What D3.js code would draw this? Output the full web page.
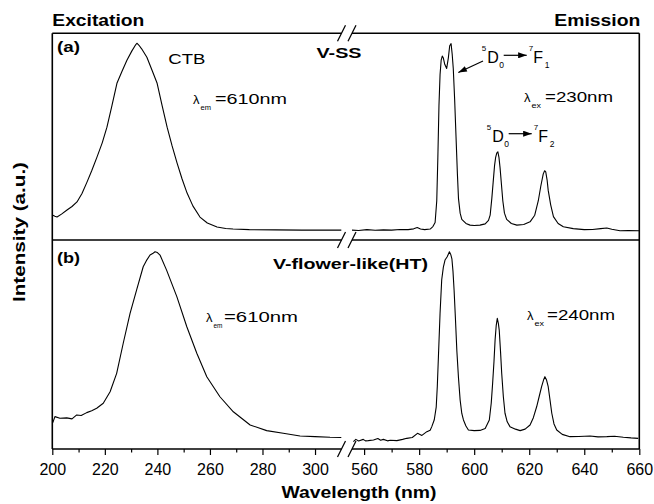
<!DOCTYPE html>
<html>
<head>
<meta charset="utf-8">
<script src="https://cdn.jsdelivr.net/npm/d3@7"></script>
<style>
  body { margin: 0; background: #fff; }
  svg { display: block; font-family: "Liberation Sans", Arial, sans-serif; }
</style>
</head>
<body>
<svg id="chart" width="654" height="504"></svg>
<script>
// Excitation spectra (wavelength nm, intensity a.u. scaled 0-100 per panel)
const excWlA = [200, 201, 201.8, 203.5, 205.6, 207.5, 209.4, 211.3, 213.2, 215, 217, 219, 220.8, 222.7, 224.6, 226.5, 228.4, 230.3, 231.5, 232.2, 233, 234, 236, 238, 239.9, 241.8, 243.7, 245.6, 247.5, 249.4, 251.3, 253.5, 256.2, 259, 262.7, 266, 268.8, 275, 285, 295, 305.7, 310];
const excIntA = [12.1, 11.5, 11.1, 12.5, 14.5, 16.2, 18.4, 22.5, 28, 33.5, 40.1, 47, 54.6, 65, 75.8, 81.5, 87, 91.5, 94, 95.2, 94.2, 92.5, 88.4, 82, 75.8, 65, 54.6, 45.5, 37.2, 29.5, 22.7, 16.5, 11.1, 8.2, 6.3, 5.6, 5.3, 5.0, 4.9, 4.8, 4.8, 4.8];

const excWlB = [200.2, 201, 202.9, 205.5, 207.5, 209.3, 211, 213.1, 215, 216.9, 219.4, 222, 224.5, 227, 229.6, 232.1, 234.6, 236, 237.2, 238.2, 239.1, 240, 241, 243.5, 247.4, 251.2, 255, 258.8, 263.8, 268.9, 275.3, 281.6, 287.9, 294.3, 300, 305.7, 310];
const excIntB = [12.6, 15.5, 14.7, 14.9, 14.4, 16.3, 16.0, 17.4, 18.3, 19.5, 21.9, 27.4, 36.2, 50.6, 64.9, 76.1, 87.2, 90.5, 92.8, 93.5, 94.4, 94, 92.8, 85.6, 72.9, 58.5, 45.8, 34.6, 25, 17.8, 11.5, 8.8, 7.5, 6.2, 5.9, 5.6, 5.5];

// Emission spectra
const emWlA = [555.6, 558, 561, 564, 567, 570, 573, 576, 578, 579.3, 580.5, 582, 584, 585, 585.8, 586.4, 586.8, 587.2, 587.6, 588, 588.4, 588.8, 589.3, 590, 590.6, 591.1, 591.6, 592, 592.4, 592.9, 593.4, 593.9, 594.3, 594.9, 595.5, 597, 598.5, 600, 602.1, 604, 605.2, 605.8, 606.4, 606.9, 607.4, 607.8, 608.2, 608.6, 609, 609.4, 609.9, 610.4, 611, 611.8, 613.5, 615.5, 618, 620.3, 622, 623.3, 624.2, 625.1, 625.6, 626, 626.5, 626.9, 627.8, 628.8, 630.5, 632.4, 636, 640, 643, 646, 648.2, 650, 653, 656, 660];
const emIntA = [4.8, 4.6, 5.0, 4.7, 4.9, 4.8, 5.1, 5.0, 5.4, 6.0, 5.3, 5.0, 5.3, 6.5, 8.5, 19, 40, 65, 80, 87, 89, 88, 85, 83, 88, 94, 95, 90, 83, 68, 50, 32, 20, 13, 10, 8, 7.2, 7, 7.2, 7.8, 9.5, 12, 20, 28, 36, 40, 42, 42.7, 40, 35, 27, 19, 13, 10, 8, 7.2, 7.5, 8.8, 12, 19, 26, 32, 33.5, 33, 29, 24, 17, 11.3, 8, 6.4, 5.5, 5, 5.1, 5.5, 5.8, 5.2, 4.5, 4.6, 4.5];

const emWlB = [556.1, 557, 558, 559.7, 560.5, 561.5, 563.4, 565, 566, 567, 568.5, 569.5, 571.9, 574, 575.5, 577.5, 579.4, 581, 582.8, 584, 584.6, 585.5, 586.2, 586.6, 587, 587.6, 588.2, 588.8, 589.4, 590.2, 591, 591.5, 591.9, 592.3, 592.7, 593.2, 593.7, 594.3, 594.9, 595.5, 596.1, 597, 597.9, 600, 602.1, 604, 605.5, 606.2, 606.7, 607.2, 607.6, 608, 608.4, 608.8, 609.1, 609.6, 610, 610.6, 611.2, 612, 613, 615, 616.7, 618.5, 620.3, 621.5, 622.7, 623.6, 624.5, 625.2, 625.7, 626.3, 626.9, 627.6, 628.2, 629, 630, 632, 634.8, 638, 642.1, 645, 648.2, 651, 654.2, 657, 659.6];
const emIntB = [3.5, 4.6, 3.8, 4.6, 3.9, 4.0, 4.3, 5.0, 4.2, 4.6, 3.9, 4.2, 4.0, 4.6, 5.1, 5.5, 7.5, 6.5, 8.3, 9, 10.7, 14, 20, 30, 44, 65, 81, 87, 90.4, 92, 94.4, 93, 91, 85, 76, 62, 47, 34, 23.4, 17, 13.9, 11, 9.1, 8.8, 8.9, 9.8, 13.9, 22, 31.4, 42, 52.2, 59, 62.5, 60, 56.9, 46, 36.2, 25, 17.1, 13, 10.7, 9.5, 8.8, 9.5, 11.5, 15, 20.2, 25, 29.8, 33, 34.6, 33, 29.8, 23, 17.1, 12, 9.1, 7, 5.9, 6.0, 6.2, 5.8, 5.9, 6.1, 5.6, 5.3, 5.1];

// tick values for the broken x axis
const majorLeft = [200, 220, 240, 260, 280, 300];
const minorLeft = [210, 230, 250, 270, 290];
const majorRight = [560, 580, 600, 620, 640, 660];
const minorRight = [570, 590, 610, 630, 650];

const F = { left: 52.3, right: 639.3, top: 33.3, mid: 240, bottom: 449, breakL: 341.5, breakR: 352 };

const svg = d3.select("#chart");

const xLeft = d3.scaleLinear().domain([200, 310]).range([F.left, 341.3]);
const xRight = d3.scaleLinear().domain([555.6, 660]).range([F.breakR, F.right]);
const yA = d3.scaleLinear().domain([0, 100]).range([F.mid, F.top]);
const yB = d3.scaleLinear().domain([0, 100]).range([F.bottom, F.mid]);

// arrowhead
svg.append("defs").append("marker")
  .attr("id", "head")
  .attr("viewBox", "0 0 10 7")
  .attr("refX", 10).attr("refY", 3.5)
  .attr("markerUnits", "userSpaceOnUse")
  .attr("markerWidth", 9).attr("markerHeight", 6)
  .attr("orient", "auto")
  .append("path").attr("d", "M0,0L10,3.5L0,7Z").attr("fill", "#000");

// spectra
function drawCurve(wl, vals, x, y) {
  const line = d3.line().x(d => x(d[0])).y(d => y(d[1]));
  svg.append("path")
    .datum(d3.zip(wl, vals))
    .attr("d", line)
    .attr("fill", "none")
    .attr("stroke", "#000")
    .attr("stroke-width", 1.1)
    .attr("stroke-linejoin", "round");
}
drawCurve(excWlA, excIntA, xLeft, yA);
drawCurve(excWlB, excIntB, xLeft, yB);
drawCurve(emWlA, emIntA, xRight, yA);
drawCurve(emWlB, emIntB, xRight, yB);

// frame with the axis break
const frame = svg.append("g").attr("stroke", "#000").attr("stroke-width", 1.6);
[F.top, F.mid, F.bottom].forEach(yy => {
  frame.append("line").attr("x1", F.left).attr("x2", F.breakL).attr("y1", yy).attr("y2", yy);
  frame.append("line").attr("x1", F.breakR).attr("x2", F.right).attr("y1", yy).attr("y2", yy);
  [F.breakL, F.breakR].forEach(bx => {
    frame.append("line")
      .attr("stroke-width", 1.2)
      .attr("x1", bx - 4).attr("y1", yy + 8)
      .attr("x2", bx + 4).attr("y2", yy - 8);
  });
});
frame.append("line").attr("x1", F.left).attr("x2", F.left).attr("y1", F.top).attr("y2", F.bottom);
frame.append("line").attr("x1", F.right).attr("x2", F.right).attr("y1", F.top).attr("y2", F.bottom);

// x axes
function drawAxis(scale, major, minor) {
  const gMajor = svg.append("g")
    .attr("transform", `translate(0,${F.bottom})`)
    .call(d3.axisBottom(scale).tickValues(major).tickSize(6).tickSizeOuter(0).tickPadding(8.6));
  const gMinor = svg.append("g")
    .attr("transform", `translate(0,${F.bottom})`)
    .call(d3.axisBottom(scale).tickValues(minor).tickSize(3.5).tickSizeOuter(0).tickFormat(""));
  [gMajor, gMinor].forEach(g => {
    g.select(".domain").remove();
    g.selectAll(".tick line").attr("stroke", "#000").attr("stroke-width", 1.2);
  });
  gMajor.selectAll(".tick text")
    .attr("fill", "#000")
    .style("font-size", "16px")
    .style("font-family", "'Liberation Sans', Arial, sans-serif");
}
drawAxis(xLeft, majorLeft, minorLeft);
drawAxis(xRight, majorRight, minorRight);

// text helpers
function txt(x, y, str, size, opts = {}) {
  const t = svg.append("text")
    .attr("x", x).attr("y", y)
    .attr("font-size", size)
    .attr("font-weight", opts.bold ? "bold" : "normal")
    .attr("text-anchor", opts.anchor || "start")
    .attr("fill", "#000")
    .text(str);
  if (opts.width) t.attr("textLength", opts.width).attr("lengthAdjust", "spacingAndGlyphs");
  if (opts.transform) t.attr("transform", opts.transform);
  return t;
}

// lambda with subscript, then the rest of the label
function lambda(x, y, sub, subW, rest, restX, restW) {
  txt(x, y, "λ", 13);
  txt(x + 7.5, y + 6, sub, 7.5, { width: subW });
  txt(restX, y, rest, 15, { width: restW });
}

// 5D0 -> 7Fn label
function transition(x, y, lower) {
  txt(x, y - 12, "5", 8);
  txt(x + 5.5, y, "D", 16);
  txt(x + 17.5, y + 5, "0", 8.5);
  svg.append("line")
    .attr("x1", x + 22).attr("x2", x + 45)
    .attr("y1", y - 8).attr("y2", y - 8)
    .attr("stroke", "#000").attr("stroke-width", 1.2)
    .attr("marker-end", "url(#head)");
  txt(x + 47, y - 12, "7", 8);
  txt(x + 51.5, y, "F", 16);
  txt(x + 63, y + 5, lower, 8.5);
}

// headings and axis titles
txt(F.left, 26, "Excitation", 16, { bold: true, width: 92 });
txt(F.right + 1, 26, "Emission", 16, { bold: true, width: 86, anchor: "end" });
txt(359, 498, "Wavelength (nm)", 17, { bold: true, width: 155, anchor: "middle" });
txt(0, 0, "Intensity (a.u.)", 16, { bold: true, width: 140, anchor: "middle", transform: "translate(25,232) rotate(-90)" });

// panel (a)
txt(57, 52, "(a)", 15, { bold: true, width: 23 });
txt(168.3, 64, "CTB", 14, { width: 37 });
txt(316.5, 58, "V-SS", 14, { bold: true, width: 45 });
lambda(193, 104, "em", 10.5, "=610nm", 215, 72);
lambda(524, 102, "ex", 9.5, "=230nm", 545, 68);
transition(481.7, 63.3, "1");
transition(486.7, 141.7, "2");
svg.append("line")
  .attr("x1", 483).attr("y1", 61)
  .attr("x2", 458.3).attr("y2", 72.5)
  .attr("stroke", "#000").attr("stroke-width", 1.2)
  .attr("marker-end", "url(#head)");

// panel (b)
txt(57, 263, "(b)", 15, { bold: true, width: 23 });
txt(273, 269, "V-flower-like(HT)", 15, { bold: true, width: 155 });
lambda(206, 322, "em", 9, "=610nm", 224, 74);
lambda(527, 320, "ex", 9.5, "=240nm", 547, 68);
</script>
</body>
</html>
